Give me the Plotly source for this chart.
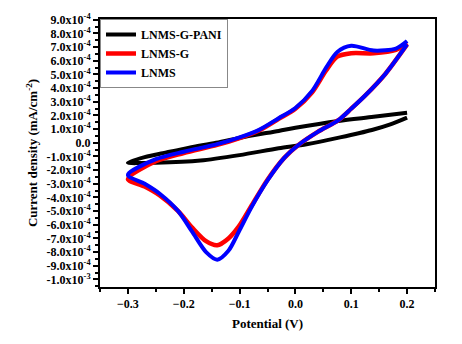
import plotly.graph_objects as go

# Potential (V) and current density (units of 1e-4 mA/cm^-2)
pani_x = [0.2, 0.14, 0.077, 0.0, -0.03, -0.09, -0.142, -0.19, -0.231, -0.27, -0.3,
          -0.25, -0.17, -0.1, -0.03, 0.02, 0.08, 0.137, 0.17, 0.2]
pani_y = [2.2, 1.9, 1.6, 1.1, 0.87, 0.45, 0.0, -0.35, -0.7, -1.05, -1.45,
          -1.45, -1.3, -0.9, -0.4, -0.1, 0.4, 0.94, 1.35, 1.85]

g_x = [0.2, 0.18, 0.14, 0.1, 0.075, 0.055, 0.03, 0.0, -0.03, -0.065, -0.1, -0.14, -0.2, -0.25, -0.3,
       -0.27, -0.243, -0.21, -0.185, -0.16, -0.14, -0.12, -0.101, -0.08, -0.05, -0.02, 0.006,
       0.04, 0.077, 0.1, 0.125, 0.161, 0.2]
g_y = [7.3, 6.8, 6.55, 6.55, 6.3, 5.3, 3.7, 2.5, 1.75, 0.9, 0.35, -0.15, -0.75, -1.35, -2.65,
       -3.2, -3.85, -5.0, -6.2, -7.2, -7.5, -7.0, -6.1, -4.7, -2.7, -1.1, -0.14,
       0.8, 1.66, 2.5, 3.46, 5.04, 7.2]

l_x = [0.2, 0.18, 0.14, 0.1, 0.075, 0.055, 0.03, 0.0, -0.03, -0.065, -0.1, -0.14, -0.2, -0.25, -0.3,
       -0.27, -0.243, -0.21, -0.185, -0.16, -0.14, -0.12, -0.101, -0.08, -0.05, -0.02, 0.006,
       0.04, 0.077, 0.1, 0.125, 0.161, 0.2]
l_y = [7.45, 6.9, 6.75, 7.1, 6.65, 5.5, 3.8, 2.55, 1.8, 0.95, 0.4, -0.1, -0.65, -1.2, -2.35,
       -3.0, -3.73, -5.0, -6.5, -8.0, -8.55, -7.9, -6.47, -4.8, -2.75, -1.1, -0.14,
       0.8, 1.66, 2.5, 3.46, 5.04, 7.2]

y_tick_vals = [9, 8, 7, 6, 5, 4, 3, 2, 1, 0, -1, -2, -3, -4, -5, -6, -7, -8, -9, -10]
y_tick_text = ["9.0x10<sup>-4</sup>", "8.0x10<sup>-4</sup>", "7.0x10<sup>-4</sup>", "6.0x10<sup>-4</sup>",
               "5.0x10<sup>-4</sup>", "4.0x10<sup>-4</sup>", "3.0x10<sup>-4</sup>", "2.0x10<sup>-4</sup>",
               "1.0x10<sup>-4</sup>", "0.0", "-1.0x10<sup>-4</sup>", "-2.0x10<sup>-4</sup>",
               "-3.0x10<sup>-4</sup>", "-4.0x10<sup>-4</sup>", "-5.0x10<sup>-4</sup>", "-6.0x10<sup>-4</sup>",
               "-7.0x10<sup>-4</sup>", "-8.0x10<sup>-4</sup>", "-9.0x10<sup>-4</sup>", "-1.0x10<sup>-3</sup>"]

font = dict(family="Liberation Serif", size=12, color="black", weight="bold")
title_font = dict(family="Liberation Serif", size=13, color="black", weight="bold")

fig = go.Figure()
fig.add_trace(go.Scatter(x=pani_x, y=pani_y, mode="lines", name="LNMS-G-PANI",
                         line=dict(color="black", width=4, shape="spline", smoothing=0.8)))
fig.add_trace(go.Scatter(x=g_x, y=g_y, mode="lines", name="LNMS-G",
                         line=dict(color="#ff0000", width=4.5, shape="spline", smoothing=0.8)))
fig.add_trace(go.Scatter(x=l_x, y=l_y, mode="lines", name="LNMS",
                         line=dict(color="#0000ff", width=4, shape="spline", smoothing=0.8)))

fig.update_layout(
    width=462, height=344,
    margin=dict(l=100, r=27, t=14, b=57),
    paper_bgcolor="white", plot_bgcolor="white",
    font=font,
    showlegend=True,
    legend=dict(x=0, y=1, xanchor="left", yanchor="top", bgcolor="white",
                bordercolor="#888888", borderwidth=1,
                font=dict(family="Liberation Serif", size=12, color="black", weight="bold"),
                itemwidth=30, tracegroupgap=0),
    xaxis=dict(range=[-0.35, 0.25], tickmode="linear", tick0=-0.3, dtick=0.1, tickformat=".1f",
               showgrid=False, zeroline=False, showline=True, linecolor="black", linewidth=2,
               mirror=True, ticks="outside", ticklen=5, tickwidth=1.5, tickcolor="black",
               minor=dict(tickmode="linear", tick0=-0.35, dtick=0.05, ticks="outside", ticklen=3,
                          tickwidth=1.5, tickcolor="black"),
               tickfont=font,
               title=dict(text="Potential (V)", font=title_font, standoff=8)),
    yaxis=dict(range=[-10.55, 9.06], tickmode="array", tickvals=y_tick_vals, ticktext=y_tick_text,
               showgrid=False, zeroline=False, showline=True, linecolor="black", linewidth=2,
               mirror=True, ticks="outside", ticklen=5, tickwidth=1.5, tickcolor="black",
               minor=dict(tickmode="linear", tick0=0, dtick=0.5, ticks="outside", ticklen=3,
                          tickwidth=1.5, tickcolor="black"),
               tickfont=font,
               title=dict(text="Current density (mA/cm<sup>-2</sup>)", font=title_font,
                          standoff=6)),
)

fig.write_html("out.html")
